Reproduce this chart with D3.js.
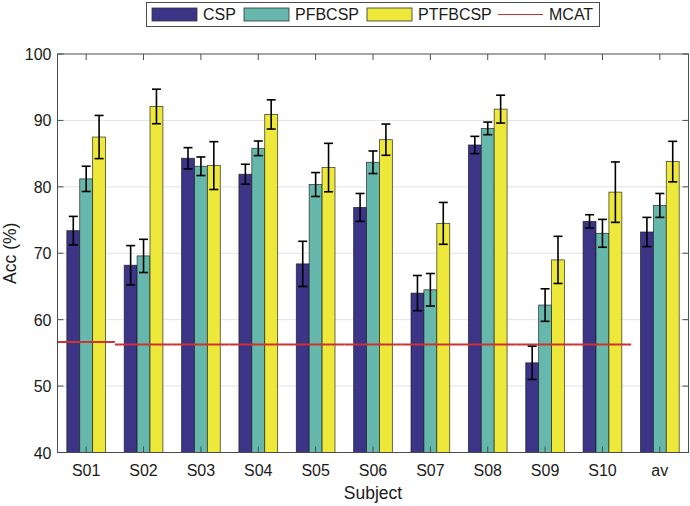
<!DOCTYPE html>
<html><head><meta charset="utf-8">
<script src="https://cdn.jsdelivr.net/npm/d3@7"></script>
<style>body{margin:0;background:#fff}svg{display:block;font-family:"Liberation Sans",Arial,sans-serif}</style>
</head><body><svg id="c" width="690" height="506"></svg>
<script>
const categories = ["S01","S02","S03","S04","S05","S06","S07","S08","S09","S10","av"];
const seriesNames = ["CSP","PFBCSP","PTFBCSP"];
const cspValues   = [73.4,68.2,84.3,81.9,68.4,76.9,64.0,86.3,53.5,74.8,73.2];
const cspErrors   = [2.15,2.95,1.6,1.5,3.4,2.1,2.65,1.3,2.5,1.0,2.2];
const pfbValues   = [81.2,69.6,83.1,85.8,80.35,83.7,64.5,88.8,62.2,73.0,77.2];
const pfbErrors   = [1.9,2.5,1.4,1.1,1.8,1.7,2.45,0.95,2.45,2.1,1.8];
const ptfValues   = [87.5,92.1,83.2,90.9,82.9,87.1,74.5,91.7,69.0,79.2,83.8];
const ptfErrors   = [3.25,2.6,3.6,2.2,3.65,2.35,3.15,2.1,3.55,4.55,3.05];
const mcatValues  = [56.65,56.25,56.25,56.25,56.25,56.25,56.25,56.25,56.25,56.25];
const yTicks = [40,50,60,70,80,90,100];
const colors = ["#3b3487","#66b8ad","#ede83a"];
const mcatColor = "#cc3333";

const svg = d3.select("#c");
const L = 57.5, R = 688.5, T = 54, B = 452.5;
const x = d3.scaleLinear().domain([0.5, 11.5]).range([L, R]);
const y = d3.scaleLinear().domain([40, 100]).range([B, T]);
const groupW = 0.675, barW = groupW / 3;
const series = [
  {vals: cspValues, errs: cspErrors},
  {vals: pfbValues, errs: pfbErrors},
  {vals: ptfValues, errs: ptfErrors}
];

// grid
svg.append("g").selectAll("line").data(yTicks.slice(1, -1)).join("line")
  .attr("x1", L).attr("x2", R).attr("y1", d => y(d)).attr("y2", d => y(d))
  .attr("stroke", "#e3e3e3").attr("stroke-width", 1);

// bars
series.forEach((s, si) => {
  const g = svg.append("g");
  g.selectAll("rect").data(s.vals).join("rect")
    .attr("x", (d, i) => x(i + 1 - groupW / 2 + si * barW))
    .attr("width", x(barW) - x(0))
    .attr("y", d => y(d))
    .attr("height", d => y(40) - y(d))
    .attr("fill", colors[si]).attr("stroke", "#1a1a1a").attr("stroke-width", 0.8)
    .attr("stroke-opacity", 0.8);
});

// MCAT line (per subject)
svg.append("g").selectAll("line").data(mcatValues).join("line")
  .attr("x1", (d, i) => x(i + 0.5)).attr("x2", (d, i) => x(i + 1.5))
  .attr("y1", d => y(d)).attr("y2", d => y(d))
  .attr("stroke", mcatColor).attr("stroke-width", 2);

// error bars
series.forEach((s, si) => {
  const g = svg.append("g").attr("stroke", "#000").attr("stroke-width", 1.6);
  s.vals.forEach((v, i) => {
    const cx = x(i + 1 - groupW / 2 + (si + 0.5) * barW);
    const e = s.errs[i];
    g.append("line").attr("x1", cx).attr("x2", cx).attr("y1", y(v + e)).attr("y2", y(v - e));
    g.append("line").attr("x1", cx - 4.5).attr("x2", cx + 4.5).attr("y1", y(v + e)).attr("y2", y(v + e));
    g.append("line").attr("x1", cx - 4.5).attr("x2", cx + 4.5).attr("y1", y(v - e)).attr("y2", y(v - e));
  });
});

// axes box
const axCol = "#4d4d4d";
svg.append("rect").attr("x", L).attr("y", T).attr("width", R - L).attr("height", B - T)
  .attr("fill", "none").attr("stroke", axCol).attr("stroke-width", 1);

// ticks (inward)
const xt = svg.append("g").attr("stroke", axCol);
categories.forEach((c, i) => {
  xt.append("line").attr("x1", x(i + 1)).attr("x2", x(i + 1)).attr("y1", B).attr("y2", B - 6);
  xt.append("line").attr("x1", x(i + 1)).attr("x2", x(i + 1)).attr("y1", T).attr("y2", T + 6);
});
yTicks.forEach(t => {
  xt.append("line").attr("x1", L).attr("x2", L + 6).attr("y1", y(t)).attr("y2", y(t));
  xt.append("line").attr("x1", R).attr("x2", R - 6).attr("y1", y(t)).attr("y2", y(t));
});

svg.append("g").selectAll("text").data(categories).join("text")
  .attr("x", (d, i) => x(i + 1)).attr("y", B + 23.5).attr("text-anchor", "middle")
  .attr("font-size", 16).attr("fill", "#1a1a1a").text(d => d);
svg.append("g").selectAll("text").data(yTicks).join("text")
  .attr("x", L - 6).attr("y", d => y(d) + 6).attr("text-anchor", "end")
  .attr("font-size", 16).attr("fill", "#1a1a1a").text(d => d);

svg.append("text").attr("x", x(6)).attr("y", 499).attr("text-anchor", "middle")
  .attr("font-size", 17.5).attr("fill", "#1a1a1a").text("Subject");
svg.append("text").attr("transform", `translate(15.5,${(T + B) / 2}) rotate(-90)`)
  .attr("text-anchor", "middle").attr("font-size", 17.5).attr("fill", "#1a1a1a").text("Acc (%)");

// legend
const lg = svg.append("g");
lg.append("rect").attr("x", 146.5).attr("y", 2.5).attr("width", 453).attr("height", 24)
  .attr("fill", "#fff").attr("stroke", axCol).attr("stroke-width", 1);
const legItems = [
  {name: "CSP", type: "rect", col: colors[0], sx: 152},
  {name: "PFBCSP", type: "rect", col: colors[1], sx: 244},
  {name: "PTFBCSP", type: "rect", col: colors[2], sx: 367},
  {name: "MCAT", type: "line", col: mcatColor, sx: 498}
];
legItems.forEach(it => {
  if (it.type === "rect") {
    lg.append("rect").attr("x", it.sx).attr("y", 8).attr("width", 45).attr("height", 13)
      .attr("fill", it.col).attr("stroke", "#333").attr("stroke-width", 0.8);
  } else {
    lg.append("line").attr("x1", it.sx).attr("x2", it.sx + 45).attr("y1", 14.5).attr("y2", 14.5)
      .attr("stroke", it.col).attr("stroke-width", 1.2);
  }
  lg.append("text").attr("x", it.sx + 51).attr("y", 20).attr("font-size", 16)
    .attr("fill", "#1a1a1a").text(it.name);
});
</script></body></html>
